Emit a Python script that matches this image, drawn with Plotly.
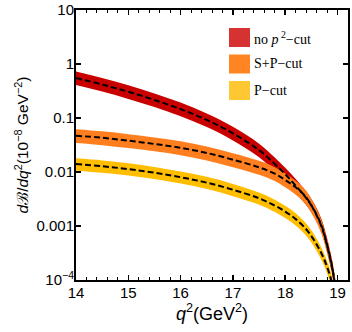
import plotly.graph_objects as go

# q^2 grid (GeV^2)
q2 = [14.0, 14.5, 15.0, 15.5, 16.0, 16.5, 17.0, 17.5, 17.8, 18.0, 18.2, 18.4, 18.55, 18.7, 18.8, 18.9, 18.97]

# no p^2-cut (red)
red_mid = [0.55, 0.417, 0.306, 0.216, 0.146, 0.092, 0.052, 0.0254, 0.0141, 0.0091, 0.0056, 0.0033, 0.0020, 0.00098, 0.00045, 0.00017, 0.00006]
red_hi = [0.726, 0.55, 0.404, 0.285, 0.193, 0.121, 0.0686, 0.0335, 0.0186, 0.012, 0.0074, 0.00436, 0.00264, 0.00129, 0.000594, 0.000224, 0.000079]
red_lo = [0.407, 0.309, 0.226, 0.160, 0.108, 0.068, 0.0385, 0.0188, 0.0104, 0.00673, 0.00414, 0.00244, 0.00148, 0.000725, 0.000333, 0.000126, 0.0000444]

# S+P-cut (orange)
ora_mid = [0.047, 0.043, 0.038, 0.033, 0.028, 0.0225, 0.0169, 0.0122, 0.0093, 0.0071, 0.0052, 0.0034, 0.00196, 0.00094, 0.00043, 0.00016, 0.00006]
ora_hi = [0.062, 0.0568, 0.0502, 0.0436, 0.037, 0.0297, 0.0223, 0.0161, 0.0123, 0.00937, 0.00686, 0.00449, 0.00259, 0.00124, 0.000568, 0.000211, 0.000079]
ora_lo = [0.0343, 0.0314, 0.0277, 0.0241, 0.0204, 0.0164, 0.0123, 0.0089, 0.0068, 0.0052, 0.0038, 0.00248, 0.00143, 0.000686, 0.000314, 0.000117, 0.0000438]

# P-cut (yellow)
yel_mid = [0.014, 0.0128, 0.0113, 0.0097, 0.0080, 0.00635, 0.0047, 0.00326, 0.00239, 0.00185, 0.00134, 0.00087, 0.00055, 0.0003, 0.000175, 0.000082, 0.00002]
yel_hi = [0.0179, 0.0164, 0.0145, 0.0124, 0.0102, 0.00813, 0.00602, 0.00417, 0.00306, 0.00237, 0.00172, 0.00111, 0.000704, 0.000384, 0.000224, 0.000105, 0.0000256]
yel_lo = [0.0106, 0.0097, 0.0086, 0.0074, 0.0061, 0.00483, 0.00357, 0.00248, 0.00182, 0.00141, 0.00102, 0.00066, 0.000418, 0.000228, 0.000133, 0.0000623, 0.0000152]

ytick_vals = [1e-4, 1e-3, 1e-2, 1e-1, 1, 10]
ytick_text = ["10<sup>−4</sup>", "0.001", "0.01", "0.1", "1", "10"]

legend_names = ["no <i>p</i><sup> 2</sup>−cut", "S+P−cut", "P−cut"]
legend_cols = ["#d63232", "#ff8522", "#ffc832"]

bands = [
    (red_lo, red_hi, "#c80000"),
    (ora_lo, ora_hi, "#ff7f1e"),
    (yel_lo, yel_hi, "#ffbe00"),
]

fig = go.Figure()
for lo, hi, col in bands:
    fig.add_trace(go.Scatter(x=q2, y=hi, mode="lines", line=dict(width=0, color=col, shape="spline"),
                             showlegend=False, hoverinfo="skip"))
    fig.add_trace(go.Scatter(x=q2, y=lo, mode="lines", line=dict(width=0, color=col, shape="spline"),
                             fill="tonexty", fillcolor=col, showlegend=False, hoverinfo="skip"))

for mid in [red_mid, ora_mid, yel_mid]:
    fig.add_trace(go.Scatter(x=q2, y=mid, mode="lines",
                             line=dict(color="black", width=2, dash="6px,3px", shape="spline"),
                             showlegend=False, hoverinfo="skip"))

W, H = 352, 332
L, R, T, B = 76, 4, 10, 52
pw, ph = W - L - R, H - T - B

# legend drawn by hand
for i, (name, col) in enumerate(zip(legend_names, legend_cols)):
    top = 28 + i * 26.5
    fig.add_shape(type="rect", xref="paper", yref="paper",
                  x0=(229 - L) / pw, x1=(250 - L) / pw,
                  y0=1 - (top + 19 - T) / ph, y1=1 - (top - T) / ph,
                  fillcolor=col, line=dict(width=0))
    fig.add_annotation(text=name, xref="paper", yref="paper",
                       x=(252 - L) / pw, y=1 - (top + 9.5 - T) / ph,
                       xanchor="left", yanchor="middle", showarrow=False,
                       font=dict(family="Liberation Serif", size=14, color="black"))

fig.update_xaxes(range=[14, 19.2], tickvals=[14, 15, 16, 17, 18, 19],
                 ticks="inside", ticklen=5, tickwidth=1.5, tickcolor="black",
                 minor=dict(dtick=0.2, ticks="inside", ticklen=3, tickcolor="black", tickwidth=1),
                 showline=True, linecolor="black", linewidth=2, mirror="allticks",
                 showgrid=False, zeroline=False, automargin=False, ticklabeloverflow="allow",
                 ticklabelstandoff=-2,
                 tickfont=dict(family="Liberation Sans", size=15, color="black"),
                 title=dict(text="<i>q</i><sup>2</sup>(GeV<sup>2</sup>)", standoff=4,
                            font=dict(family="Liberation Sans", size=18, color="black")))
fig.update_yaxes(type="log", range=[-4, 1], tickvals=ytick_vals, ticktext=ytick_text,
                 ticks="inside", ticklen=5, tickwidth=1.5, tickcolor="black",
                 showline=True, linecolor="black", linewidth=2, mirror="allticks",
                 showgrid=False, zeroline=False, automargin=False, ticklabeloverflow="allow",
                 ticklabelstandoff=-3,
                 tickfont=dict(family="Liberation Sans", size=15, color="black"),
                 title=dict(text="<i>d</i>ℬ/<i>dq</i><sup>2</sup>(10<sup>−8</sup> GeV<sup>−2</sup>)", standoff=4,
                            font=dict(family="Liberation Sans", size=15.5, color="black")))

fig.update_layout(width=W, height=H, margin=dict(l=L, r=R, t=T, b=B),
                  plot_bgcolor="white", paper_bgcolor="white", showlegend=False,
                  hovermode=False)

# drop the browser's default 8px body margin so the figure fills the window
fig.write_html("out.html", config={"displayModeBar": False, "staticPlot": True},
               post_script="document.body.style.margin='0';document.body.style.overflow='hidden';")
